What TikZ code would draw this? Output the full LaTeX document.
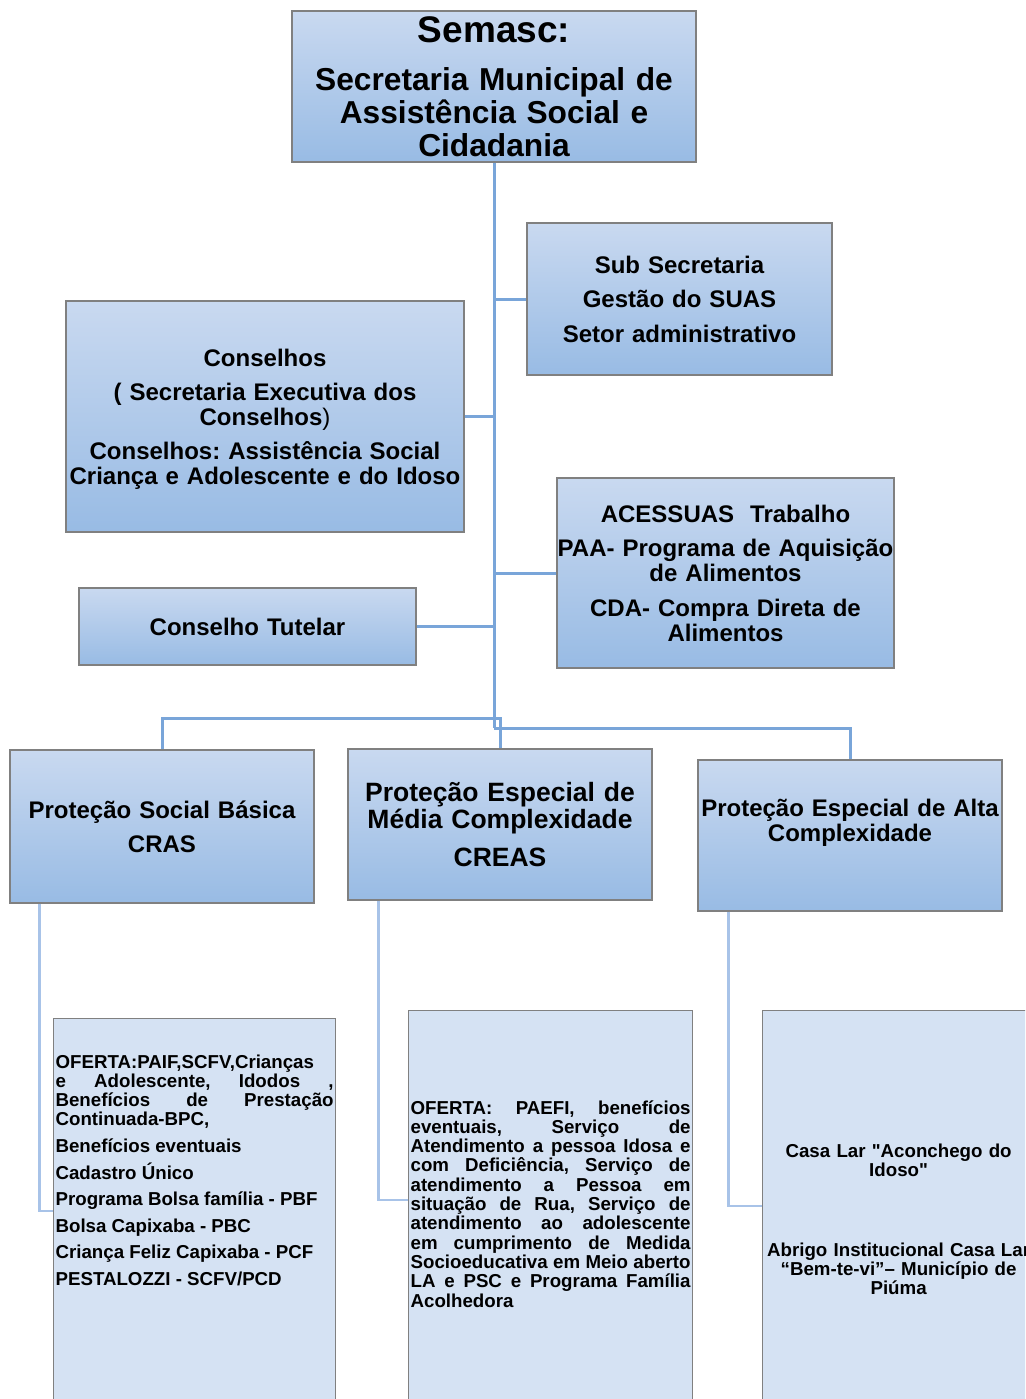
\documentclass[tikz,border=0pt]{standalone}
\usepackage{fontspec}
\setmainfont{Liberation Sans}[Ligatures=TeXOff]
\frenchspacing
\definecolor{boxtop}{RGB}{201,217,240}
\definecolor{boxbottom}{RGB}{152,187,228}
\definecolor{boxline}{RGB}{128,128,128}
\definecolor{lowfill}{RGB}{213,226,243}
\definecolor{linkblue}{RGB}{121,165,217}
\definecolor{linkpale}{RGB}{168,195,232}
\begin{document}
\begin{tikzpicture}[x=1pt,y=-1pt,every node/.style={align=center},
	unitbox/.style={draw=boxline,line width=1.2pt,top color=boxtop,bottom color=boxbottom,inner xsep=0pt,inner ysep=0pt,font={\bfseries\fontsize{24}{25}\selectfont}},
	servicebox/.style={draw=boxline,line width=1.2pt,fill=lowfill,inner xsep=2pt,inner ysep=0pt,anchor=north west,font={\bfseries\fontsize{18.7}{19.3}\selectfont\tolerance=10000 \hyphenpenalty=10000 }},
	trunk/.style={draw=linkblue,line width=3pt},
	feeder/.style={draw=linkpale,line width=2.2pt}]
		\useasboundingbox (0,0) rectangle (1025,1399);
		\clip (0,0) rectangle (1025,1399);
		\node[unitbox,font={\bfseries\fontsize{31.7}{33}\selectfont},text width=404pt,minimum height=151pt] (semasc) at (494,86.5) {{\fontsize{37}{40}\selectfont Semasc:\par}\vspace{15pt}Secretaria Municipal de\\Assistência Social e\\Cidadania};
		\node[unitbox,text width=305pt,minimum height=152pt] (subsec) at (679.5,299) {Sub Secretaria\\[9.5pt]Gestão do SUAS\\[9.5pt]Setor administrativo};
		\node[unitbox,text width=398pt,minimum height=231pt] (conselhos) at (265,416.5) {\rule{0pt}{23.5pt}Conselhos\\[9pt]( Secretaria Executiva dos\\Conselhos{\mdseries )}\\[9pt]Conselhos: Assistência Social\\Criança e Adolescente e do Idoso};
		\node[unitbox,text width=337pt,minimum height=190pt] (acessuas) at (725.5,573) {ACESSUAS~~Trabalho\\[9pt]PAA- Programa de Aquisição\\de Alimentos\\[10pt]CDA- Compra Direta de\\Alimentos};
		\node[unitbox,text width=337pt,minimum height=77pt] (tutelar) at (247.5,626.5) {Conselho Tutelar};
		\node[unitbox,text width=304pt,minimum height=153pt] (cras) at (162,826.5) {Proteção Social Básica\\[9pt]CRAS};
		\node[unitbox,font={\bfseries\fontsize{26.5}{27}\selectfont},text width=304pt,minimum height=151pt] (creas) at (500,824.5) {Proteção Especial de\\Média Complexidade\\[11pt]CREAS};
		\node[unitbox,text width=304pt,minimum height=151pt] (alta) at (850,835.5) {Proteção Especial de Alta\\Complexidade\rule[-30pt]{0pt}{30pt}};
		\node[servicebox,align=justify,text width=278pt] (oferta1) at (53,1018) {\rule{0pt}{49.4pt}OFERTA:PAIF,SCFV,Crianças\linebreak e Adolescente, Idodos ,\linebreak Benefícios de Prestação\linebreak Continuada-BPC,\par\vspace{7.3pt}Benefícios eventuais\par\vspace{7.3pt}Cadastro Único\par\vspace{7.3pt}Programa Bolsa família - PBF\par\vspace{7.3pt}Bolsa Capixaba - PBC\par\vspace{7.3pt}Criança Feliz Capixaba - PCF\par\vspace{7.3pt}PESTALOZZI - SCFV/PCD\rule[-150pt]{0pt}{150pt}};
		\node[servicebox,align=justify,text width=280pt] (oferta2) at (408,1010) {\rule{0pt}{103.4pt}OFERTA: PAEFI, benefícios\linebreak eventuais, Serviço de\linebreak Atendimento a pessoa Idosa e\linebreak com Deficiência, Serviço de\linebreak atendimento a Pessoa em\linebreak situação de Rua, Serviço de\linebreak atendimento ao adolescente\linebreak em cumprimento de Medida\linebreak Socioeducativa em Meio aberto\linebreak LA e PSC e Programa Família\linebreak Acolhedora\rule[-150pt]{0pt}{150pt}};
		\node[servicebox,text width=268pt] (oferta3) at (762,1010) {\rule{0pt}{146.4pt}Casa Lar "Aconchego do\\Idoso"\\[60.7pt]Abrigo Institucional Casa Lar\\“Bem-te-vi”– Município de\\Piúma\rule[-150pt]{0pt}{150pt}};
		\coordinate (forkA) at (494,718);
		\coordinate (forkB) at (494,728);
		\draw[trunk] (semasc.south) -- (forkB);
		\draw[trunk] (subsec.west) -- (subsec.west -| semasc.south);
		\draw[trunk] (conselhos.east) -- (conselhos.east -| semasc.south);
		\draw[trunk] (acessuas.west) -- (acessuas.west -| semasc.south);
		\draw[trunk] (tutelar.east) -- (tutelar.east -| semasc.south);
		\draw[trunk] (forkA) -| (cras.north);
		\draw[trunk] (forkA) -| (creas.north);
		\draw[trunk] (forkB) -| (alta.north);
		\draw[feeder] ([xshift=30pt]cras.south west) |- ([yshift=-193pt]oferta1.north west);
		\draw[feeder] ([xshift=31pt]creas.south west) |- ([yshift=-190pt]oferta2.north west);
		\draw[feeder] ([xshift=31pt]alta.south west) |- ([yshift=-196pt]oferta3.north west);
\end{tikzpicture}
\end{document}
